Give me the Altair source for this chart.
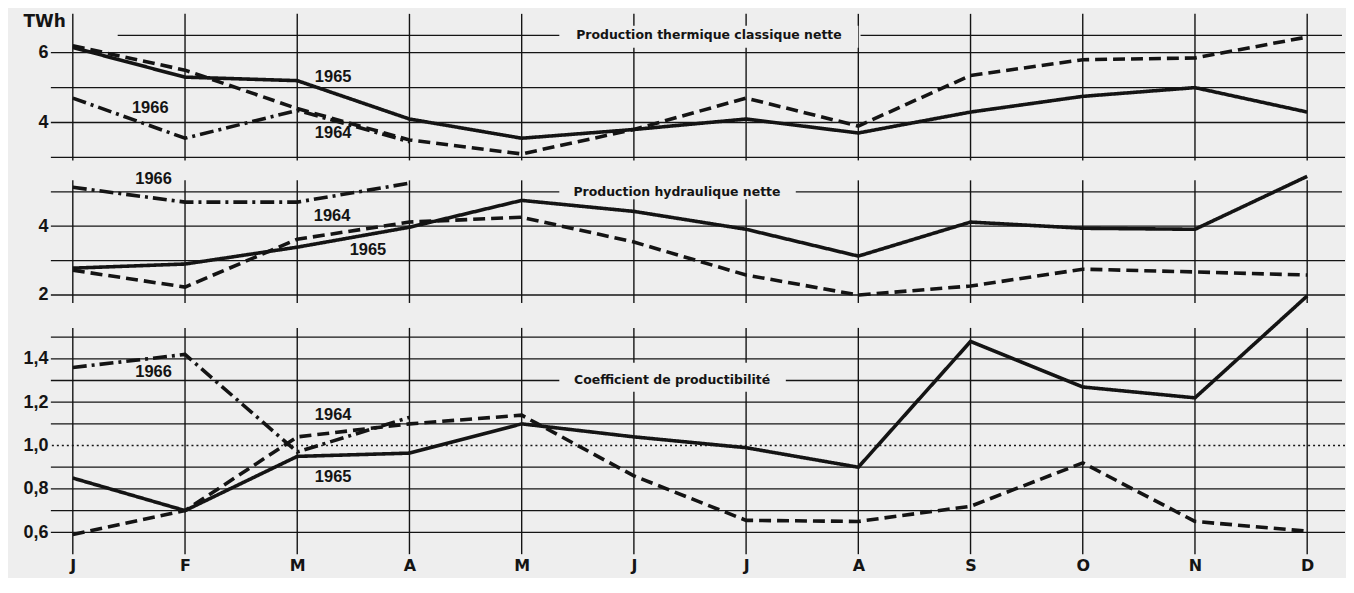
import json
import altair as alt
import pandas as pd

# ---------------- data ----------------
months = ["J", "F", "M", "A", "M", "J", "J", "A", "S", "O", "N", "D"]
years = ["1964", "1965", "1966"]

thermal_1964 = [6.2, 5.5, 4.4, 3.5, 3.1, 3.8, 4.7, 3.9, 5.35, 5.8, 5.85, 6.45]
thermal_1965 = [6.15, 5.3, 5.2, 4.1, 3.55, 3.8, 4.1, 3.7, 4.3, 4.75, 5.0, 4.3]
thermal_1966 = [4.7, 3.55, 4.35, 3.45]

hydro_1964 = [2.72, 2.23, 3.62, 4.12, 4.26, 3.54, 2.58, 2.0, 2.26, 2.75, 2.67, 2.58]
hydro_1965 = [2.78, 2.9, 3.39, 3.97, 4.75, 4.43, 3.91, 3.13, 4.12, 3.94, 3.91, 5.45]
hydro_1966 = [5.13, 4.7, 4.7, 5.25]

coef_1964 = [0.59, 0.70, 1.04, 1.10, 1.14, 0.86, 0.655, 0.65, 0.72, 0.92, 0.65, 0.605]
coef_1965 = [0.85, 0.70, 0.95, 0.965, 1.10, 1.04, 0.99, 0.90, 1.48, 1.27, 1.22, 1.69]
coef_1966 = [1.36, 1.42, 0.97, 1.13]

thermal_ticks = [4, 6]
hydro_ticks = [2, 4]
coef_ticks = [0.6, 0.8, 1.0, 1.2, 1.4]

# ---------------- style / layout ----------------
BG = "#eeeeee"
INK = "#141414"
NUM_FONT = "Liberation Sans"
LETTER_FONT = "DejaVu Sans"
TITLE_FONT = "DejaVu Sans"
X_DOMAIN = [-0.1955, 11.337]
PANEL_W = 1298
DASHES = [[12, 6], [1, 0], [14, 5, 3, 5]]


def line_frame(series):
    rows = []
    for year, vals in series.items():
        for i, v in enumerate(vals):
            rows.append({"i": i, "v": v, "year": year})
    return pd.DataFrame(rows)


def panel(series, y_domain, height, full_lines, dotted_lines, split, vspan,
          box, title, year_labels, tick_values, tick_expr, axis_title=None,
          show_x=False):
    ys = alt.Scale(domain=y_domain, nice=False, zero=False)
    xs = alt.Scale(domain=X_DOMAIN, nice=False, zero=False)

    ykw = dict(values=tick_values, grid=False, domain=False, ticks=False,
               labelPadding=3, labelFont=NUM_FONT, labelFontSize=18,
               labelFontWeight="bold", labelColor=INK)
    if tick_expr:
        ykw["labelExpr"] = tick_expr
    if axis_title:
        ykw.update(title=axis_title, titleAngle=0, titleX=-28, titleY=1,
                   titleAlign="left", titleBaseline="top", titleFont=LETTER_FONT,
                   titleFontSize=17, titleFontWeight="bold", titleColor=INK)
    else:
        ykw["title"] = None
    yaxis = alt.Axis(**ykw)

    if show_x:
        xaxis = alt.Axis(values=list(range(12)), grid=False, domain=False,
                         ticks=False, labelPadding=6, labelFont=LETTER_FONT,
                         labelFontSize=16, labelFontWeight="bold",
                         labelColor=INK, title=None,
                         labelExpr=json.dumps(months) + "[datum.value]")
    else:
        xaxis = None

    def X(f):
        return alt.X(f, type="quantitative", scale=xs, axis=xaxis)

    def Y(f):
        return alt.Y(f, type="quantitative", scale=ys, axis=yaxis)

    layers = []
    # full horizontal grid lines
    layers.append(
        alt.Chart(pd.DataFrame({"v": full_lines}))
        .mark_rule(color=INK, strokeWidth=1.3)
        .encode(y=Y("v"))
    )
    if dotted_lines:
        layers.append(
            alt.Chart(pd.DataFrame({"v": dotted_lines}))
            .mark_rule(color=INK, strokeWidth=1.5, strokeDash=[2, 3])
            .encode(y=Y("v"))
        )
    # split grid line carrying the panel title
    layers.append(
        alt.Chart(pd.DataFrame(split))
        .mark_rule(color=INK, strokeWidth=1.3)
        .encode(x=X("x0"), x2="x1", y=Y("v"))
    )
    # vertical month lines
    layers.append(
        alt.Chart(pd.DataFrame({"i": list(range(12)),
                                "top": [vspan[0]] * 12,
                                "bottom": [vspan[1]] * 12}))
        .mark_rule(color=INK, strokeWidth=1.4)
        .encode(x=X("i"), y=Y("top"), y2="bottom")
    )
    # box behind title
    layers.append(
        alt.Chart(pd.DataFrame([box]))
        .mark_rect(color=BG)
        .encode(x=X("x0"), x2="x1", y=Y("y0"), y2="y1")
    )
    layers.append(
        alt.Chart(pd.DataFrame([title]))
        .mark_text(font=TITLE_FONT, fontSize=12.5, fontWeight="bold", color=INK,
                   align="center", baseline="middle")
        .encode(x=X("x"), y=Y("v"), text="t:N")
    )
    # data lines
    layers.append(
        alt.Chart(line_frame(series))
        .mark_line(color=INK, strokeWidth=3.6, strokeCap="butt")
        .encode(
            x=X("i"),
            y=Y("v"),
            detail="year:N",
            strokeDash=alt.StrokeDash("year:N",
                                      scale=alt.Scale(domain=years, range=DASHES),
                                      legend=None),
        )
    )
    # year labels
    layers.append(
        alt.Chart(pd.DataFrame(year_labels))
        .mark_text(font=NUM_FONT, fontSize=16.5, fontWeight="bold", color=INK,
                   align="center", baseline="middle")
        .encode(x=X("x"), y=Y("v"), text="t:N")
    )
    return alt.layer(*layers).properties(width=PANEL_W, height=height)


thermal = panel(
    {"1964": thermal_1964, "1965": thermal_1965, "1966": thermal_1966},
    y_domain=[2.629, 7.143], height=158,
    full_lines=[3, 4, 5, 6], dotted_lines=[],
    split=[{"x0": 0.40, "x1": 4.34, "v": 6.5}, {"x0": 7.02, "x1": 11.31, "v": 6.5}],
    vspan=(7.114, 2.914),
    box={"x0": 4.336, "x1": 7.0, "y0": 6.771, "y1": 6.143},
    title={"x": 5.669, "v": 6.5, "t": "Production thermique classique nette"},
    year_labels=[{"x": 2.32, "v": 5.31, "t": "1965"},
                 {"x": 0.69, "v": 4.43, "t": "1966"},
                 {"x": 2.32, "v": 3.69, "t": "1964"}],
    tick_values=thermal_ticks, tick_expr=None, axis_title="TWh",
)

hydro = panel(
    {"1964": hydro_1964, "1965": hydro_1965, "1966": hydro_1966},
    y_domain=[1.391, 5.623], height=146,
    full_lines=[2, 3, 4], dotted_lines=[],
    split=[{"x0": -0.1955, "x1": 4.34, "v": 5}, {"x0": 6.44, "x1": 11.31, "v": 5}],
    vspan=(5.333, 1.768),
    box={"x0": 4.336, "x1": 6.441, "y0": 5.35, "y1": 4.78},
    title={"x": 5.384, "v": 5.0, "t": "Production hydraulique nette"},
    year_labels=[{"x": 0.72, "v": 5.36, "t": "1966"},
                 {"x": 2.31, "v": 4.29, "t": "1964"},
                 {"x": 2.63, "v": 3.30, "t": "1965"}],
    tick_values=hydro_ticks, tick_expr=None,
)

coef = panel(
    {"1964": coef_1964, "1965": coef_1965, "1966": coef_1966},
    y_domain=[0.5126, 1.5977], height=236,
    full_lines=[0.6, 0.7, 0.8, 0.9, 1.1, 1.2, 1.4, 1.5], dotted_lines=[1.0],
    split=[{"x0": -0.1955, "x1": 4.34, "v": 1.3}, {"x0": 6.35, "x1": 11.31, "v": 1.3}],
    vspan=(1.5425, 0.499),
    box={"x0": 4.336, "x1": 6.353, "y0": 1.382, "y1": 1.248},
    title={"x": 5.34, "v": 1.3, "t": "Coefficient de productibilité"},
    year_labels=[{"x": 0.72, "v": 1.34, "t": "1966"},
                 {"x": 2.32, "v": 1.143, "t": "1964"},
                 {"x": 2.32, "v": 0.853, "t": "1965"}],
    tick_values=coef_ticks,
    tick_expr="replace(format(datum.value, '.1f'), '.', ',')",
    show_x=True,
)

chart = (
    alt.vconcat(thermal, hydro, coef, spacing=0, bounds="flush")
    .resolve_scale(x="independent", y="independent")
    .properties(background=BG, padding={"left": 14, "top": 4, "right": 0, "bottom": 4})
    .configure_view(stroke=None)
)

chart.save("out.html", embed_options={"renderer": "svg", "actions": False})
